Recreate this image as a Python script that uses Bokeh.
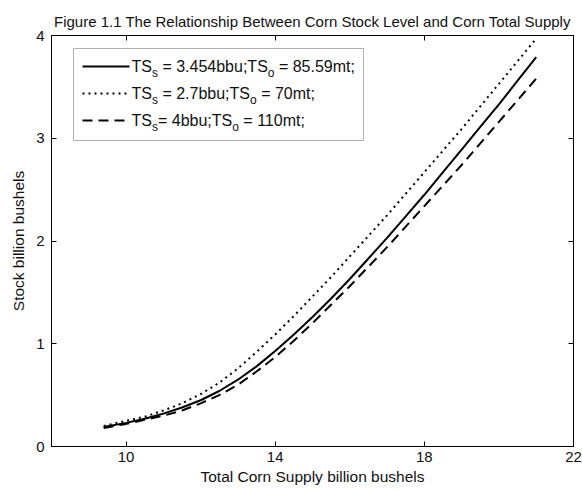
from bokeh.plotting import figure
from bokeh.models import Range1d, LinearAxis, FixedTicker, Label, BoxAnnotation
from bokeh.embed import file_html
from bokeh.resources import INLINE

# Total corn supply (billion bushels)
supply = [9.4, 10.0, 10.5, 11.0, 11.5, 12.0, 12.5, 13.0, 13.5, 14.0, 14.5, 15.0,
          15.5, 16.0, 16.5, 17.0, 17.5, 18.0, 18.5, 19.0, 19.5, 20.0, 20.5, 21.0]

# Stock level (billion bushels) for TSs = 3.454bbu; TSo = 85.59mt
stock_base = [0.19, 0.23, 0.27, 0.32, 0.38, 0.45, 0.54, 0.65, 0.78, 0.93, 1.09, 1.26,
              1.44, 1.63, 1.83, 2.03, 2.24, 2.45, 2.67, 2.89, 3.11, 3.33, 3.56, 3.79]
# Stock level for TSs = 2.7bbu; TSo = 70mt
stock_low_ts = [0.20, 0.25, 0.29, 0.35, 0.42, 0.51, 0.62, 0.76, 0.92, 1.09, 1.27, 1.46,
                1.65, 1.85, 2.05, 2.25, 2.46, 2.67, 2.88, 3.09, 3.31, 3.53, 3.75, 3.97]
# Stock level for TSs = 4bbu; TSo = 110mt
stock_high_ts = [0.18, 0.22, 0.26, 0.30, 0.35, 0.42, 0.50, 0.60, 0.73, 0.87, 1.03, 1.20,
                 1.38, 1.56, 1.75, 1.94, 2.14, 2.34, 2.54, 2.74, 2.95, 3.16, 3.37, 3.58]

x_ticks = [10, 14, 18, 22]
y_ticks = [0, 1, 2, 3, 4]

title_text = "Figure 1.1 The Relationship Between Corn Stock Level and Corn Total Supply"
x_label = "Total Corn Supply billion bushels"
y_label = "Stock billion bushels"

# legend rows: list of (text, subscript?) pieces
legend_rows = [
    [("TS", False), ("s", True), (" = 3.454bbu;TS", False), ("o", True), (" = 85.59mt;", False)],
    [("TS", False), ("s", True), (" = 2.7bbu;TS", False), ("o", True), (" = 70mt;", False)],
    [("TS", False), ("s", True), ("= 4bbu;TS", False), ("o", True), (" = 110mt;", False)],
]

FONT = "Liberation Sans"
INK = "#111111"

# frame geometry in canvas pixels
W, H = 582, 491
FX0, FX1, FY0, FY1 = 51, 573, 35, 446
XMIN, XMAX, YMIN, YMAX = 8, 22, 0, 4


def sx(px):
    return XMIN + (px - FX0) * (XMAX - XMIN) / (FX1 - FX0)


def sy(py):
    return YMAX - (py - FY0) * (YMAX - YMIN) / (FY1 - FY0)


# Arial-compatible advance widths (per 1000 em)
ADV = {"T": 611, "S": 667, " ": 278, "=": 584, ".": 278, "b": 556, "u": 556,
       ";": 278, "m": 833, "t": 278, "s": 500, "o": 556}


def text_width(s, size):
    return sum(ADV.get(c, 556) for c in s) * size / 1000.0


p = figure(width=W, height=H, x_range=Range1d(XMIN, XMAX), y_range=Range1d(YMIN, YMAX),
           output_backend="svg", toolbar_location=None,
           min_border_left=FX0, min_border_right=W - FX1,
           min_border_top=FY0, min_border_bottom=H - FY1)
p.grid.visible = False
p.background_fill_color = "white"
p.border_fill_color = "white"
p.outline_line_color = "black"
p.outline_line_width = 1

# title
p.title.text = title_text
p.title.text_font = FONT
p.title.text_font_size = "15px"
p.title.text_font_style = "normal"
p.title.text_color = INK
p.title.align = "center"
p.title.standoff = 12

for ax in (p.xaxis[0], p.yaxis[0]):
    ax.major_tick_in = 5
    ax.major_tick_out = 0
    ax.minor_tick_line_color = None
    ax.axis_line_color = "black"
    ax.major_tick_line_color = "black"
    ax.major_label_text_font = FONT
    ax.major_label_text_font_size = "15px"
    ax.major_label_text_color = INK
    ax.axis_label_text_font = FONT
    ax.axis_label_text_font_size = "15.5px"
    ax.axis_label_text_font_style = "normal"
    ax.axis_label_text_color = INK

p.xaxis.ticker = FixedTicker(ticks=x_ticks)
p.yaxis.ticker = FixedTicker(ticks=y_ticks)
p.xaxis.axis_label = x_label
p.yaxis.axis_label = y_label
p.xaxis.major_label_standoff = 5
p.xaxis.axis_label_standoff = 3
p.yaxis.major_label_standoff = 7
p.yaxis.axis_label_standoff = 6

# box ticks on the top and right edges (no labels)
for loc, ticks in (("above", x_ticks), ("right", y_ticks)):
    ax = LinearAxis(ticker=FixedTicker(ticks=ticks))
    ax.major_tick_in = 5
    ax.major_tick_out = 0
    ax.minor_tick_line_color = None
    ax.major_label_overrides = {t: "" for t in ticks}
    ax.major_label_standoff = 0
    ax.axis_line_color = "black"
    p.add_layout(ax, loc)

# curves
p.line(supply, stock_base, line_color="black", line_width=2)
p.line(supply, stock_low_ts, line_color="black", line_width=2, line_dash="2 4")
p.line(supply, stock_high_ts, line_color="black", line_width=2, line_dash="10 6")

# legend box drawn beneath the sample lines
LEG_L, LEG_R, LEG_T, LEG_B = 73, 363, 48, 140
p.add_layout(BoxAnnotation(left=sx(LEG_L), right=sx(LEG_R), top=sy(LEG_T), bottom=sy(LEG_B),
                           fill_color="white", fill_alpha=1.0, line_color="black",
                           line_width=1, level="underlay"))
row_y = [66, 93, 120]
styles = ["solid", "2 4", "10 6"]
MAIN, SUB = 16, 12
for ry, row, dash in zip(row_y, legend_rows, styles):
    p.line([sx(82), sx(129)], [sy(ry), sy(ry)], line_color="black", line_width=2,
           line_dash=dash)
    cx = 131
    for txt, is_sub in row:
        size = SUB if is_sub else MAIN
        yc = ry + 6 if is_sub else ry
        lead = len(txt) - len(txt.lstrip(" "))
        cx += text_width(" " * lead, size)
        body = txt.lstrip(" ")
        p.add_layout(Label(x=sx(cx), y=sy(yc), text=body, text_align="left",
                           text_baseline="middle", text_font=FONT,
                           text_font_size=f"{size}px", text_color=INK))
        cx += text_width(body, size)

open("out.html", "w").write(file_html(p, INLINE))
